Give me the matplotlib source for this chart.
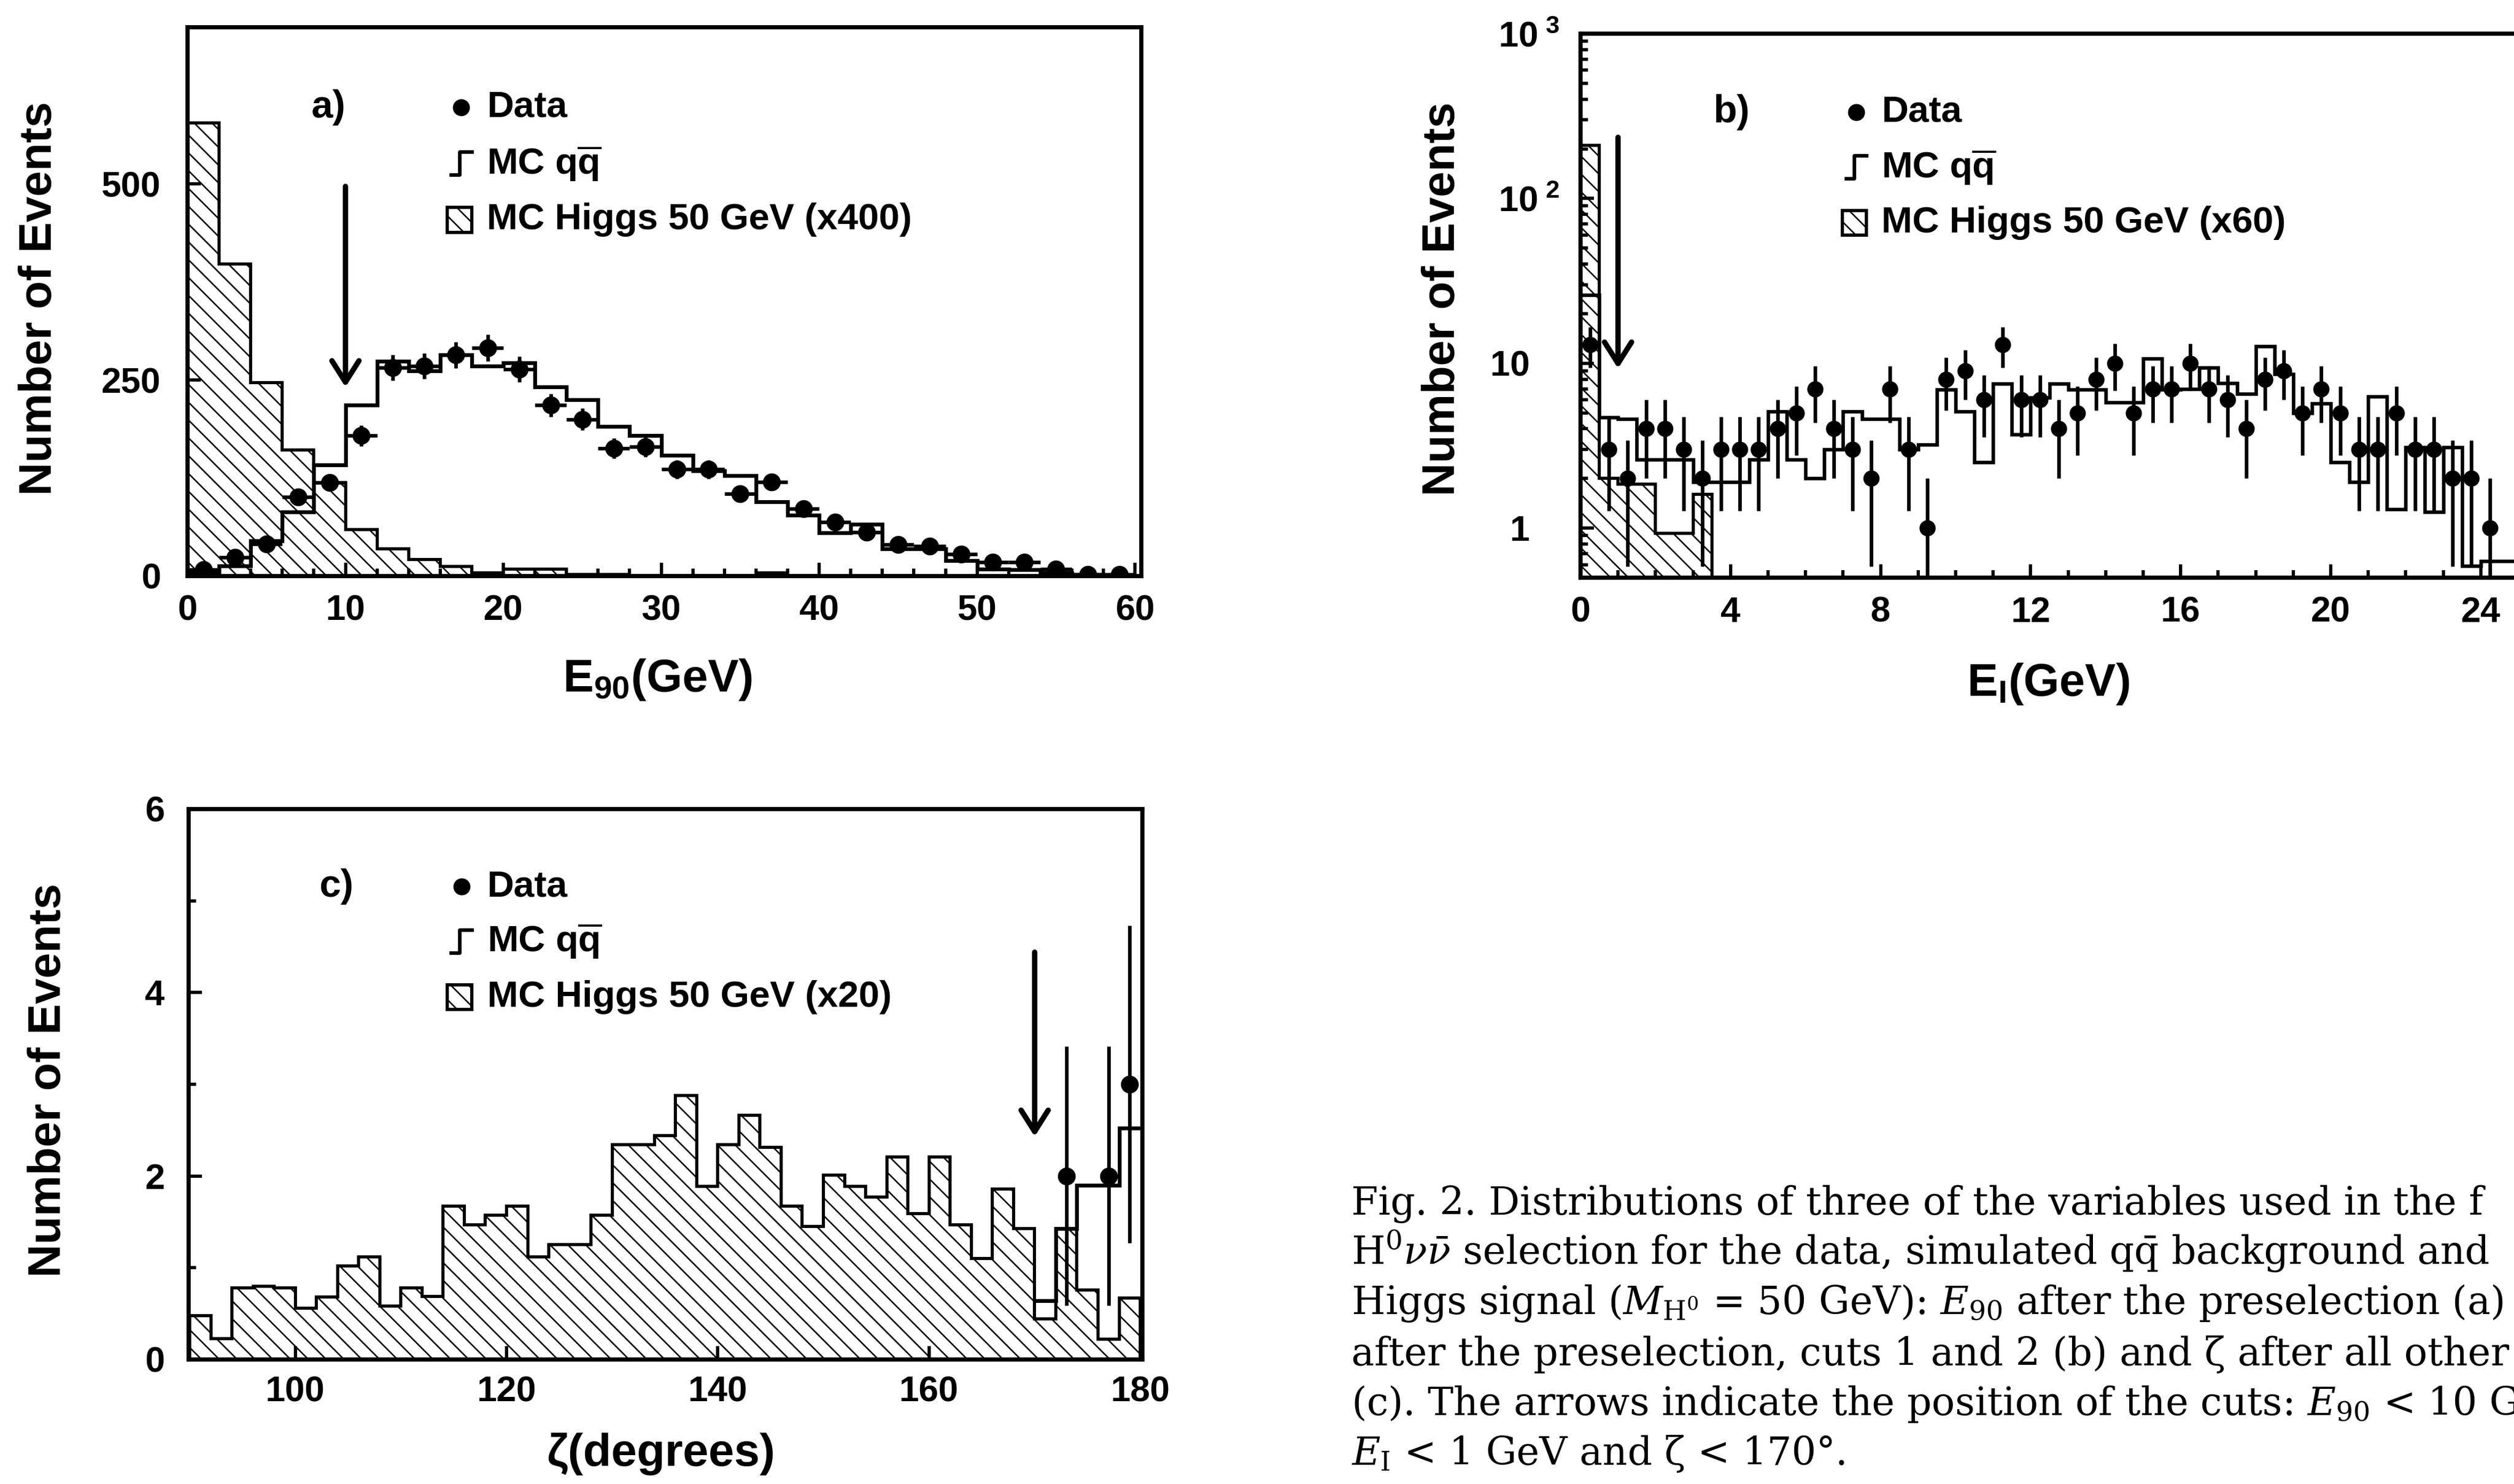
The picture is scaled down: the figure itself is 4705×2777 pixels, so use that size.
import numpy as np
import matplotlib
matplotlib.use("Agg")
import matplotlib.pyplot as plt
from matplotlib.patches import Rectangle
from matplotlib.ticker import (MultipleLocator, FixedLocator, FixedFormatter,
                               NullFormatter, LogLocator)

# ---------------- data ----------------
# (a) E90 [GeV], 2 GeV bins from 0 to 60
a_edges = np.arange(0, 61, 2)
a_mc_qq = [5, 13, 45, 82, 142, 218, 274, 262, 282, 268,
           272, 241, 225, 191, 179, 154, 134, 128, 95, 78,
           55, 66, 35, 35, 20, 9, 8, 4, 2, 1]
a_mc_higgs = [578, 398, 247, 161, 119, 59, 35, 21, 12, 4,
              9, 9, 2, 2, 1, 1, 1, 1, 4, 1,
              0, 0, 1, 0, 0, 0, 0, 0, 0, 0]
a_data = [8, 24, 41, 101, 119, 179, 266, 268, 282, 291,
          264, 218, 200, 163, 165, 136, 136, 105, 120, 86,
          69, 56, 40, 38, 28, 18, 18, 9, 2, 2]
a_cut = 10
a_arrow = (497, 241)
a_xticks = [0, 10, 20, 30, 40, 50, 60]
a_yticks = [0, 250, 500]

# (b) E_I [GeV], 0.5 GeV bins, log scale
b_edges = np.arange(0, 25.01, 0.5)
b_mc_qq = [26, 4.7, 4.6, 2.6, 2.6, 2.6, 1.9, 1.9, 1.9, 2.6,
           5.1, 2.6, 2.0, 3.0, 5.1, 4.6, 4.6, 3.0, 3.2, 6.9,
           5.1, 2.5, 7.5, 3.7, 6.2, 7.5, 6.9, 6.9, 5.8, 5.8,
           10.7, 6.9, 7.0, 9.4, 7.6, 6.5, 12.7, 8.6, 5.0, 5.7,
           2.5, 1.9, 6.3, 1.3, 3.1, 1.25, 3.1, 0.59, 0.63, 0.63]
b_higgs_edges = np.arange(0, 3.51, 0.5)
b_mc_higgs = [210, 2.0, 1.85, 1.85, 0.93, 0.93, 1.6]
b_data = [13, 3, 2, 4, 4, 3, 2, 3, 3, 3,
          4, 5, 7, 4, 3, 2, 7, 3, 1, 8,
          9, 6, 13, 6, 6, 4, 5, 8, 10, 5,
          7, 7, 10, 7, 6, 4, 8, 9, 5, 7,
          5, 3, 3, 5, 3, 3, 2, 2, 1]
b_cut = 1.0
b_arrow = (235, 9.3)
b_xticks = [0, 4, 8, 12, 16, 20, 24]
b_yticks = [1, 10, 100, 1000]
b_yticklabels = ["1   ", "10   ", r"$10^{\ 2}$", r"$10^{\ 3}$"]

# (c) zeta [degrees], 2 degree bins
c_edges = np.arange(90, 180.1, 2)
c_mc_higgs = [0.48, 0.23, 0.78, 0.80, 0.78, 0.56, 0.68, 1.02, 1.12, 0.58,
              0.78, 0.69, 1.67, 1.47, 1.57, 1.67, 1.12, 1.25, 1.25, 1.57,
              2.34, 2.34, 2.44, 2.88, 1.89, 2.34, 2.66, 2.31, 1.67, 1.45,
              2.01, 1.89, 1.77, 2.21, 1.59, 2.21, 1.47, 1.10, 1.86, 1.43,
              0.44, 1.43, 0.76, 0.22, 0.67]
c_qq_edges = np.arange(170, 180.1, 2)
c_mc_qq = [0.64, 1.43, 1.90, 1.90, 2.52]
c_data_x = [173, 177, 179]
c_data = [2, 2, 3]
c_cut = 170
c_arrow = (4.44, 2.43)
c_xticks = [100, 120, 140, 160, 180]
c_yticks = [0, 2, 4, 6]

caption_lines = [
    "Fig. 2. Distributions of three of the variables used in the f",
    r"H$^{0}\nu\bar{\nu}$ selection for the data, simulated q$\bar{\mathrm{q}}$ background and",
    r"Higgs signal ($M_{\mathrm{H}^0}$ = 50 GeV): $E_{90}$ after the preselection (a)",
    "after the preselection, cuts 1 and 2 (b) and ζ after all other",
    r"(c). The arrows indicate the position of the cuts: $E_{90}$ < 10 G",
    r"$E_{\mathrm{I}}$ < 1 GeV and ζ < 170°.",
]

# ---------------- style ----------------
plt.rcParams['font.family'] = ['Liberation Sans', 'DejaVu Sans']
plt.rcParams['mathtext.fontset'] = 'custom'
plt.rcParams['mathtext.rm'] = 'Liberation Sans:bold'
plt.rcParams['mathtext.it'] = 'Liberation Sans:bold'
plt.rcParams['mathtext.bf'] = 'Liberation Sans:bold'
plt.rcParams['hatch.linewidth'] = 1.0

W, H = 4705, 2777
DPI = 200
fig = plt.figure(figsize=(W / DPI, H / DPI), dpi=DPI)
fig.patch.set_facecolor('white')

def axes_px(left, top, right, bottom):
    return fig.add_axes([left / W, 1 - bottom / H, (right - left) / W, (bottom - top) / H])

axa = axes_px(351, 51, 2136, 1078)
axb = axes_px(2958, 63, 2958 + 1755, 1081)
axc = axes_px(353, 1514, 2138, 2544)

LW_FRAME = 2.8
LW_HIST = 2.6
MS = 11
TICK_FS = 24
LAB_FS = 31
LEG_FS = 25

def frame(ax):
    for s in ax.spines.values():
        s.set_linewidth(LW_FRAME)
    ax.tick_params(which='both', direction='in', width=2.2, labelsize=TICK_FS)
    ax.tick_params(which='major', length=9)
    ax.tick_params(which='minor', length=5)

def bold_ticks(ax):
    for t in ax.get_xticklabels() + ax.get_yticklabels():
        t.set_fontweight('bold')

def legend(ax, tag, scale_txt, xtag, xm, xt, ys):
    ax.text(xtag, ys[0], tag, transform=ax.transAxes, ha='center', va='center',
            fontsize=LEG_FS + 1, fontweight='bold')
    ax.plot([xm], [ys[0]], 'o', color='black', ms=MS * 0.95, transform=ax.transAxes,
            clip_on=False)
    ax.text(xt, ys[0], "Data", transform=ax.transAxes, ha='left', va='center',
            fontsize=LEG_FS, fontweight='bold')
    dx, dy = 0.011, 0.021
    ax.plot([xm - dx, xm - 0.002, xm - 0.002, xm + dx],
            [ys[1] - dy, ys[1] - dy, ys[1] + dy, ys[1] + dy],
            color='black', lw=2.4, transform=ax.transAxes, clip_on=False)
    ax.text(xt, ys[1], r"MC q$\overline{\mathrm{q}}$", transform=ax.transAxes,
            ha='left', va='center', fontsize=LEG_FS, fontweight='bold')
    bw, bh = 0.026, 0.045
    ax.add_patch(Rectangle((xm - bw / 2 - 0.002, ys[2] - bh / 2), bw, bh,
                           transform=ax.transAxes, facecolor='white', edgecolor='black',
                           hatch='\\\\', lw=2.2, clip_on=False))
    ax.text(xt, ys[2], "MC Higgs 50 GeV " + scale_txt, transform=ax.transAxes,
            ha='left', va='center', fontsize=LEG_FS, fontweight='bold')

def arrow(ax, x, ytop, ytip):
    ax.annotate('', xy=(x, ytip), xytext=(x, ytop),
                arrowprops=dict(arrowstyle='->,head_length=0.6,head_width=0.38',
                                lw=3.6, color='black', mutation_scale=24,
                                shrinkA=0, shrinkB=0))

# ---------------- panel a ----------------
ax = axa
ax.stairs(a_mc_higgs, a_edges, fill=True, facecolor='white', edgecolor='black',
          hatch='\\\\', lw=LW_HIST * 0.8, baseline=0)
ax.stairs(a_mc_qq, a_edges, color='black', lw=LW_HIST, baseline=None)
a_cent = 0.5 * (a_edges[:-1] + a_edges[1:])
ax.errorbar(a_cent, a_data, yerr=np.sqrt(a_data), xerr=1.0, fmt='o', color='black',
            ms=MS, elinewidth=2.4, capsize=0)
arrow(ax, a_cut, *a_arrow)
ax.set_xlim(0, 60.4)
ax.set_ylim(0, 700)
ax.set_xticks(a_xticks)
ax.set_yticks(a_yticks)
ax.xaxis.set_minor_locator(MultipleLocator(2))
frame(ax)
ax.tick_params(axis='x', pad=12.5)
ax.tick_params(axis='y', pad=18)
bold_ticks(ax)
ax.set_ylabel("Number of Events", fontsize=LAB_FS, fontweight='bold', va='center')
ax.yaxis.set_label_coords(-0.155, 0.506)
ax.set_xlabel(r"E$_{90}$(GeV)", fontsize=LAB_FS, fontweight='bold', va='center')
ax.xaxis.set_label_coords(0.4925, -0.189)
legend(ax, "a)", "(x400)", 0.148, 0.287, 0.314, [0.854, 0.752, 0.649])

# ---------------- panel b ----------------
ax = axb
ax.set_yscale('log')
ax.stairs(b_mc_higgs, b_higgs_edges, fill=True, facecolor='white', edgecolor='black',
          hatch='\\\\', lw=LW_HIST * 0.8, baseline=0.01)
ax.stairs(b_mc_qq, b_edges, color='black', lw=LW_HIST * 0.9, baseline=None)
b_cent = 0.25 + 0.5 * np.arange(len(b_data))
b_d = np.array(b_data, dtype=float)
b_err = np.sqrt(b_d)
b_lo = np.minimum(b_err, b_d - 0.01)
ax.errorbar(b_cent, b_d, yerr=[b_lo, b_err], fmt='o', color='black', ms=MS * 0.9,
            elinewidth=2.4, capsize=0)
arrow(ax, b_cut, *b_arrow)
ax.set_xlim(0, 25)
ax.set_ylim(0.5, 1000)
ax.set_xticks(b_xticks)
ax.xaxis.set_minor_locator(MultipleLocator(1))
ax.yaxis.set_major_locator(FixedLocator(b_yticks))
ax.yaxis.set_major_formatter(FixedFormatter(b_yticklabels))
ax.yaxis.set_minor_locator(LogLocator(base=10, subs=np.arange(2, 10)))
ax.yaxis.set_minor_formatter(NullFormatter())
frame(ax)
ax.tick_params(axis='x', pad=12.5)
ax.tick_params(axis='y', pad=14)
bold_ticks(ax)
ax.set_ylabel("Number of Events", fontsize=LAB_FS, fontweight='bold', va='center')
ax.yaxis.set_label_coords(-0.147, 0.512)
ax.set_xlabel(r"E$_{\mathrm{I}}$(GeV)", fontsize=LAB_FS, fontweight='bold', va='center')
ax.xaxis.set_label_coords(0.499, -0.195)
legend(ax, "b)", "(x60)", 0.161, 0.294, 0.321, [0.856, 0.755, 0.652])

# ---------------- panel c ----------------
ax = axc
ax.stairs(c_mc_higgs, c_edges, fill=True, facecolor='white', edgecolor='black',
          hatch='\\\\', lw=LW_HIST * 0.8, baseline=0)
ax.stairs(c_mc_qq, c_qq_edges, color='black', lw=LW_HIST, baseline=None)
ax.errorbar(c_data_x, c_data, yerr=np.sqrt(c_data), fmt='o', color='black', ms=MS,
            elinewidth=2.4, capsize=0)
arrow(ax, c_cut, *c_arrow)
ax.set_xlim(89.9, 180.2)
ax.set_ylim(0, 6)
ax.set_xticks(c_xticks)
ax.set_yticks(c_yticks)
ax.yaxis.set_minor_locator(MultipleLocator(1))
frame(ax)
ax.tick_params(axis='x', pad=11)
ax.tick_params(axis='y', pad=16)
bold_ticks(ax)
ax.set_ylabel("Number of Events", fontsize=LAB_FS, fontweight='bold', va='center')
ax.yaxis.set_label_coords(-0.147, 0.507)
ax.set_xlabel("ζ(degrees)", fontsize=LAB_FS, fontweight='bold', va='center')
ax.xaxis.set_label_coords(0.495, -0.172)
legend(ax, "c)", "(x20)", 0.155, 0.286, 0.313, [0.859, 0.760, 0.658])

# ---------------- caption ----------------
cap_base = [2273, 2366, 2459, 2555, 2648, 2741]
for line, yb in zip(caption_lines, cap_base):
    fig.text(2529 / W, 1 - yb / H, line, ha='left', va='baseline',
             fontsize=26, fontweight='normal', family=['DejaVu Serif'],
             math_fontfamily='dejavuserif')

fig.savefig("out.png", dpi=DPI, facecolor='white')
